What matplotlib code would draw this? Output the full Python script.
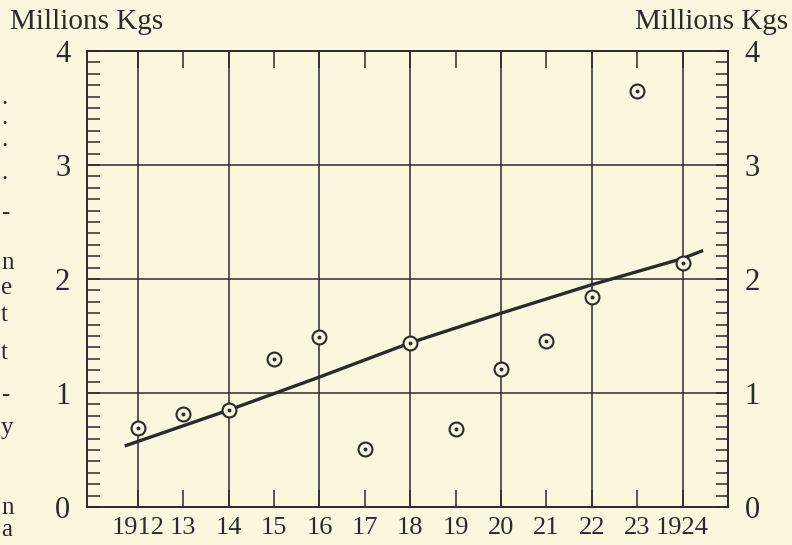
import matplotlib
matplotlib.use("Agg")
import matplotlib.pyplot as plt
from matplotlib.ticker import MultipleLocator, FixedLocator

# ---- data ----
years = [1912, 1913, 1914, 1915, 1916, 1917, 1918, 1919, 1920, 1921, 1922, 1923, 1924]
values = [0.69, 0.82, 0.85, 1.30, 1.49, 0.51, 1.44, 0.68, 1.21, 1.46, 1.84, 3.65, 2.14]
trend_x = [1911.71, 1914, 1916, 1918, 1920, 1922, 1924, 1924.45]
trend_y = [0.535, 0.85, 1.14, 1.44, 1.70, 1.95, 2.18, 2.25]
xtick_labels = ["1912", "13", "14", "15", "16", "17", "18", "19", "20", "21", "22", "23", "1924"]
ytick_values = [0, 1, 2, 3, 4]
unit_label = "Millions Kgs"
margin_text = [(".", 98), (".", 118), (".", 140), (".", 173), ("-", 213), ("n", 263),
               ("e", 288), ("t", 315), ("t", 353), ("-", 395), ("y", 428), ("n", 508), ("a", 530)]

BG = "#FAF7DE"
INK = "#2b2b2b"
serif = ["Liberation Serif", "DejaVu Serif"]

W, H = 792, 545
fig = plt.figure(figsize=(W / 100, H / 100), dpi=100, facecolor=BG)
ax = fig.add_axes([87 / W, (H - 507) / H, 641 / W, 456 / H], facecolor=BG)

ax.set_xlim(1910.88, 1925.0)
ax.set_ylim(0, 4)

# grid
for yr in years:
    if yr % 2 == 0:
        ax.axvline(yr, color=INK, lw=1.1, zorder=1)
for v in ytick_values[1:-1]:
    ax.axhline(v, color=INK, lw=1.1, zorder=1)

# trend line
ax.plot(trend_x, trend_y, color=INK, lw=2.4, solid_capstyle="butt", zorder=3)

# data points: circle with dot
ax.plot(years, values, linestyle="none", marker="o", markersize=10,
        markerfacecolor=BG, markeredgecolor=INK, markeredgewidth=1.5, zorder=4)
ax.plot(years, values, linestyle="none", marker="o", markersize=1.8,
        markerfacecolor=INK, markeredgecolor=INK, zorder=5)

for s in ax.spines.values():
    s.set_color(INK)
    s.set_linewidth(1.4)

# x ticks
ax.xaxis.set_major_locator(FixedLocator(years))
ax.set_xticklabels(xtick_labels, fontfamily=serif, fontsize=19, color=INK)
ax.tick_params(axis="x", which="major", direction="in", length=12, width=1.1,
               color=INK, top=True, bottom=True, pad=7)

# y ticks
ax.yaxis.set_major_locator(FixedLocator(ytick_values))
ax.yaxis.set_minor_locator(MultipleLocator(0.1))
ax.set_yticklabels([str(v) for v in ytick_values], fontfamily=serif, fontsize=22, color=INK)
ax.tick_params(axis="y", which="both", direction="in", length=9, width=1.1,
               color=INK, left=True, right=True, labelleft=True, labelright=True, pad=12)

# unit labels
fig.text(10 / W, 1 - 22 / H, unit_label, fontfamily=serif, fontsize=21,
         color=INK, ha="left", va="center")
fig.text(788 / W, 1 - 22 / H, unit_label, fontfamily=serif, fontsize=21,
         color=INK, ha="right", va="center")

# stray page text along the left margin
for ch, yp in margin_text:
    fig.text(1 / W, 1 - yp / H, ch, fontfamily=serif, fontsize=18,
             color=INK, ha="left", va="center")

fig.savefig("out.png", dpi=100, facecolor=BG)
